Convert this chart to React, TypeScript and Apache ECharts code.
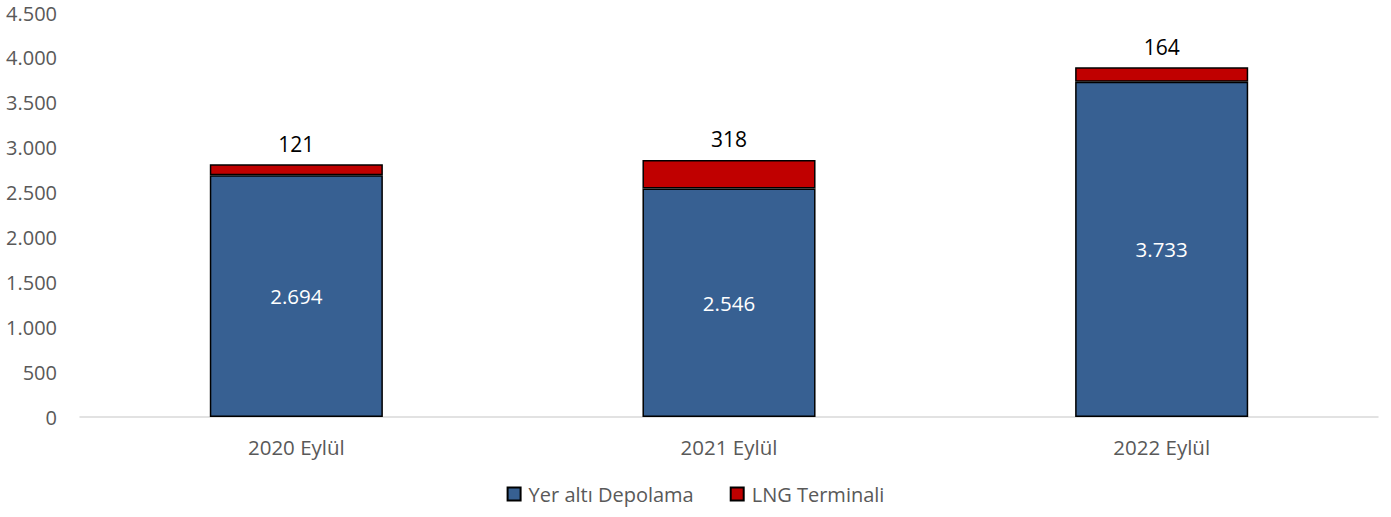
import React, { useEffect, useRef } from "react";
import * as echarts from "echarts";

const categories = ["2020 Eylül", "2021 Eylül", "2022 Eylül"];
const undergroundStorage = [2694, 2546, 3733];
const lngTerminal = [121, 318, 164];
const seriesNames = ["Yer altı Depolama", "LNG Terminali"];

const fmt = (v: number) => String(Math.round(v)).replace(/\B(?=(\d{3})+(?!\d))/g, ".");

const FONT = "'Open Sans', 'Noto Sans', sans-serif";

export default function App() {
  const ref = useRef<HTMLDivElement>(null);
  useEffect(() => {
    if (!ref.current) return;
    const chart = echarts.init(ref.current, undefined, { renderer: "svg" });
    chart.setOption({
      animation: false,
      textStyle: { fontFamily: FONT },
      grid: { left: 80, right: 13, top: 13, bottom: 100, containLabel: false },
      legend: {
        bottom: 8,
        left: "center",
        itemWidth: 13,
        itemHeight: 13,
        itemGap: 36,
        icon: "rect",
        textStyle: { fontFamily: FONT, fontSize: 20, color: "#595959", padding: [0, 0, 0, 3] },
        data: seriesNames,
      },
      xAxis: {
        type: "category",
        data: categories,
        axisLine: { lineStyle: { color: "#D9D9D9", width: 1.5 } },
        axisTick: { show: false },
        axisLabel: { color: "#595959", fontSize: 20.5, margin: 19, fontFamily: FONT },
      },
      yAxis: {
        type: "value",
        min: 0,
        max: 4500,
        interval: 500,
        axisLine: { show: false },
        axisTick: { show: false },
        splitLine: { show: false },
        axisLabel: {
          color: "#595959",
          fontSize: 20,
          lineHeight: 20,
          margin: 23,
          fontFamily: FONT,
          formatter: (v: number) => fmt(v),
        },
      },
      series: [
        {
          name: seriesNames[0],
          type: "bar",
          stack: "total",
          data: undergroundStorage,
          barWidth: "40%",
          itemStyle: { color: "#376092", borderColor: "#000000", borderWidth: 1.5 },
          label: {
            show: true,
            position: "inside",
            color: "#FFFFFF",
            fontSize: 20.5,
            fontFamily: FONT,
            formatter: (p: any) => fmt(p.value),
          },
        },
        {
          name: seriesNames[1],
          type: "bar",
          stack: "total",
          data: lngTerminal,
          barWidth: "40%",
          itemStyle: { color: "#C00000", borderColor: "#000000", borderWidth: 1.5 },
          label: {
            show: true,
            position: "top",
            distance: 10,
            color: "#000000",
            fontSize: 21,
            fontFamily: FONT,
            formatter: (p: any) => fmt(p.value),
          },
        },
      ],
    });
    return () => chart.dispose();
  }, []);
  return (
    <div
      ref={ref}
      style={{ position: "fixed", left: 0, top: 0, width: 1391, height: 517, background: "#fff" }}
    />
  );
}
